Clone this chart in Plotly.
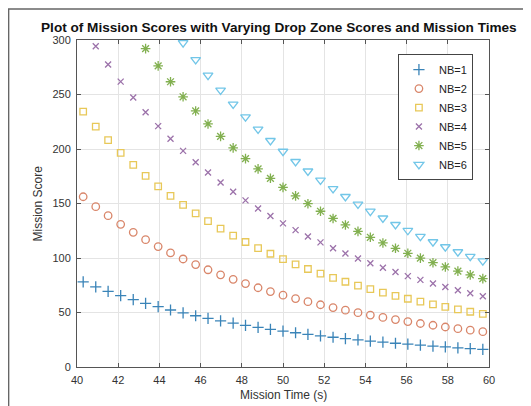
import plotly.graph_objects as go

mission_time = [40.30, 40.91, 41.51, 42.12, 42.73, 43.33, 43.94, 44.54, 45.15, 45.76,
                46.36, 46.97, 47.58, 48.18, 48.79, 49.39, 50.00, 50.61, 51.21, 51.82,
                52.43, 53.03, 53.64, 54.24, 54.85, 55.46, 56.06, 56.67, 57.28, 57.88,
                58.49, 59.09, 59.70]

nb1 = [78.1, 73.5, 69.4, 65.5, 61.8, 58.4, 55.3, 52.3, 49.6, 47.0, 44.6, 42.3, 40.2, 38.2,
       36.4, 34.6, 33.0, 31.4, 30.0, 28.6, 27.3, 26.1, 24.9, 23.8, 22.8, 21.8, 20.9, 20.0,
       19.1, 18.4, 17.6, 16.9, 16.2]
nb2 = [156.2, 147.1, 138.8, 130.9, 123.6, 116.8, 110.5, 104.7, 99.1, 94.0, 89.2, 84.6, 80.4,
       76.5, 72.7, 69.2, 65.9, 62.8, 59.9, 57.1, 54.5, 52.1, 49.8, 47.6, 45.5, 43.5, 41.7,
       39.9, 38.3, 36.7, 35.2, 33.8, 32.4]
nb3 = [234.3, 220.6, 208.1, 196.4, 185.4, 175.3, 165.8, 157.0, 148.7, 140.9, 133.8, 127.0,
       120.6, 114.7, 109.1, 103.9, 98.9, 94.2, 89.9, 85.7, 81.8, 78.2, 74.6, 71.4, 68.3, 65.3,
       62.6, 59.9, 57.4, 55.1, 52.8, 50.7, 48.7]
nb4 = [312.4, 294.2, 277.5, 261.8, 247.2, 233.7, 221.0, 209.4, 198.3, 187.9, 178.4, 169.3,
       160.8, 152.9, 145.4, 138.5, 131.8, 125.6, 119.8, 114.3, 109.0, 104.2, 99.5, 95.2, 91.0,
       87.1, 83.4, 79.9, 76.6, 73.4, 70.4, 67.6, 64.9]
nb5 = [390.5, 367.7, 346.9, 327.3, 309.0, 292.1, 276.3, 261.7, 247.9, 234.9, 223.0, 211.6,
       201.0, 191.2, 181.8, 173.1, 164.8, 157.0, 149.8, 142.9, 136.3, 130.3, 124.4, 119.0,
       113.8, 108.9, 104.3, 99.9, 95.7, 91.8, 88.0, 84.5, 81.1]
nb6 = [468.6, 441.2, 416.3, 392.7, 370.7, 350.5, 331.6, 314.0, 297.4, 281.9, 267.6, 253.9,
       241.1, 229.4, 218.1, 207.7, 197.8, 188.4, 179.7, 171.4, 163.6, 156.3, 149.3, 142.8,
       136.6, 130.6, 125.2, 119.8, 114.8, 110.2, 105.6, 101.4, 97.3]

series_names = ["NB=1", "NB=2", "NB=3", "NB=4", "NB=5", "NB=6"]
series_values = [nb1, nb2, nb3, nb4, nb5, nb6]
colors = ["#3a84b8", "#d9866a", "#e8c858", "#9c72aa", "#82b050", "#72c6e8"]
symbols = ["cross-thin-open", "circle-open", "square-open", "x-thin-open",
           "asterisk-open", "triangle-down-open"]
sizes = [8, 7.5, 6.5, 6, 8, 8.5]

x_ticks = [40, 42, 44, 46, 48, 50, 52, 54, 56, 58, 60]
y_ticks = [0, 50, 100, 150, 200, 250, 300]

FONT = "Liberation Sans, Arial"

fig = go.Figure()
for name, vals, c, s, sz in zip(series_names, series_values, colors, symbols, sizes):
    fig.add_trace(go.Scatter(
        x=mission_time, y=vals, mode="markers", name=name,
        marker=dict(symbol=s, size=sz, color=c, line=dict(color=c, width=1.3)),
        cliponaxis=True,
    ))

axis_common = dict(
    showline=True, linecolor="#555555", linewidth=1, mirror="ticks",
    ticks="inside", ticklen=4, tickcolor="#555555",
    showgrid=True, gridcolor="#e4e4e4", gridwidth=1, zeroline=False,
    automargin=False, ticklabelstandoff=3,
    tickfont=dict(family=FONT, size=11, color="#333333"),
)

fig.update_layout(
    width=523, height=398,
    margin=dict(l=69, r=42, t=32, b=39),
    paper_bgcolor="white", plot_bgcolor="white",
    title=dict(text="<b>Plot of Mission Scores with Varying Drop Zone Scores and Mission Times</b>",
               x=0.49, xref="paper", xanchor="center", y=0.952, yanchor="middle",
               font=dict(family=FONT, size=13.6, color="#111111")),
    xaxis=dict(range=[40, 60], tickvals=x_ticks, ticktext=[str(v) for v in x_ticks],
               **axis_common),
    yaxis=dict(range=[0, 300], tickvals=y_ticks, ticktext=[str(v) for v in y_ticks],
               **axis_common),
    legend=dict(x=0.961, y=0.957, xanchor="right", yanchor="top",
                bgcolor="white", bordercolor="#444444", borderwidth=1,
                font=dict(family=FONT, size=11, color="#222222"),
                tracegroupgap=0, itemwidth=30),
    showlegend=True,
)

# axis titles
fig.add_annotation(text="Mission Time (s)", xref="paper", yref="paper",
                   x=0.5, y=-0.0856, xanchor="center", yanchor="middle",
                   showarrow=False, font=dict(family=FONT, size=12, color="#333333"))
fig.add_annotation(text="Mission Score", xref="paper", yref="paper",
                   x=-0.0947, y=0.5, xanchor="center", yanchor="middle", textangle=-90,
                   showarrow=False, font=dict(family=FONT, size=12, color="#333333"))

# outer figure frame
fig.add_shape(type="rect", xref="paper", yref="paper",
              x0=-0.166, x1=1.3, y0=-0.3, y1=1.0948,
              line=dict(color="#666666", width=1.5), layer="above")

fig.write_html("out.html")
